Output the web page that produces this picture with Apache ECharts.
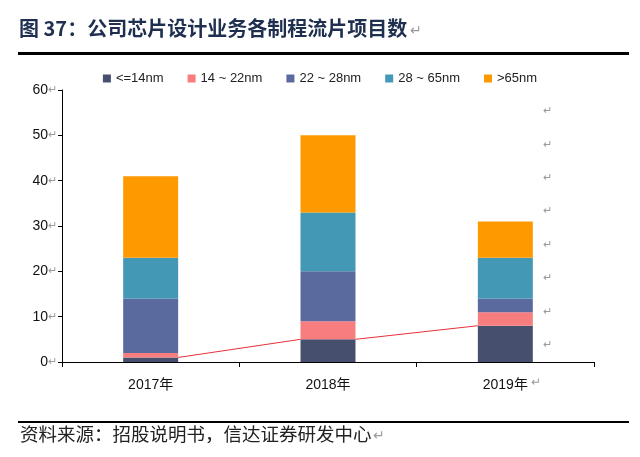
<!DOCTYPE html>
<html>
<head>
<meta charset="utf-8">
<script src="https://cdn.jsdelivr.net/npm/echarts@6/dist/echarts.min.js"></script>
<style>
  html, body { margin: 0; padding: 0; background: #fff; }
  #main { width: 640px; height: 457px; }
</style>
</head>
<body>
<div id="main"></div>
<script>
// 数据
var years = ['2017年', '2018年', '2019年'];
var seriesNames = ['<=14nm', '14 ~ 22nm', '22 ~ 28nm', '28 ~ 65nm', '>65nm'];
var le14 = [1, 5, 8];
var n14to22 = [1, 4, 3];
var n22to28 = [12, 11, 3];
var n28to65 = [9, 13, 9];
var gt65 = [18, 17, 8];
var colors = ['#474F6E', '#F77D7F', '#5B6A9E', '#4298B5', '#FF9900'];

var font = '"Liberation Sans", "Noto Sans CJK SC", sans-serif';
var mark = '#9a9a9a';

// 系列线：连接 <=14nm 段顶部
var lineData = [];
for (var i = 0; i < le14.length - 1; i++) {
    lineData.push([i, le14[i], le14[i + 1]]);
}

var allValues = [le14, n14to22, n22to28, n28to65, gt65];
var series = allValues.map(function (vals, k) {
    return {
        name: seriesNames[k],
        type: 'bar',
        stack: 'total',
        barWidth: '31%',
        itemStyle: { color: colors[k] },
        data: vals
    };
});
series.push({
    type: 'custom',
    z: 5,
    renderItem: function (params, api) {
        var p0 = api.coord([api.value(0), api.value(1)]);
        var p1 = api.coord([api.value(0) + 1, api.value(2)]);
        var hw = api.size([1, 0])[0] * 0.31 / 2;
        return {
            type: 'line',
            shape: { x1: p0[0] + hw, y1: p0[1], x2: p1[0] - hw, y2: p1[1] },
            style: { stroke: '#E8303A', lineWidth: 1 }
        };
    },
    data: lineData
});

// Word 段落标记
var marks = [];
[112, 146, 179, 212, 246, 279, 313, 346].forEach(function (y) {
    marks.push({ type: 'text', left: 543, top: y - 7, style: { text: '↵', fill: mark, font: '11px ' + font } });
});

var myChart = echarts.init(document.getElementById('main'));
myChart.setOption({
    animation: false,
    textStyle: { fontFamily: font },
    graphic: [
        {
            type: 'text', left: 19, top: 18,
            style: {
                text: '图 37：公司芯片设计业务各制程流片项目数',
                fill: '#1F2F4F',
                font: 'bold 20px "Noto Sans CJK SC", sans-serif'
            }
        },
        { type: 'text', left: 410, top: 24, style: { text: '↵', fill: mark, font: '14px ' + font } },
        { type: 'rect', shape: { x: 18, y: 52, width: 611, height: 3 }, style: { fill: '#000' } },
        { type: 'rect', shape: { x: 18, y: 421, width: 611, height: 2 }, style: { fill: '#000' } },
        {
            type: 'text', left: 20, top: 425,
            style: { text: '资料来源：招股说明书，信达证券研发中心', fill: '#222', font: '18.5px "Noto Sans CJK SC", sans-serif' }
        },
        { type: 'text', left: 373, top: 429, style: { text: '↵', fill: mark, font: '14px ' + font } },
        { type: 'text', left: 531, top: 377, style: { text: '↵', fill: mark, font: '12px ' + font } }
    ].concat(marks),
    legend: {
        top: 67,
        left: 'center',
        itemWidth: 8,
        itemHeight: 8,
        itemGap: 24,
        icon: 'rect',
        textStyle: { fontSize: 13, color: '#222', fontFamily: font },
        data: seriesNames
    },
    grid: { left: 62, right: 46, top: 90, bottom: 95 },
    xAxis: {
        type: 'category',
        data: years,
        axisLine: { lineStyle: { color: '#000', width: 1 } },
        axisTick: { show: true, length: 5, lineStyle: { color: '#000' } },
        axisLabel: { color: '#111', fontSize: 14, margin: 16 }
    },
    yAxis: {
        type: 'value',
        min: 0,
        max: 60,
        interval: 10,
        splitLine: { show: false },
        axisLine: { show: true, lineStyle: { color: '#000', width: 1 } },
        axisTick: { show: true, length: 4, lineStyle: { color: '#000' } },
        axisLabel: {
            color: '#111',
            fontSize: 14,
            margin: 5,
            formatter: function (v) { return v + '{m|↵}'; },
            rich: { m: { color: mark, fontSize: 11 } }
        }
    },
    series: series
});
</script>
</body>
</html>
